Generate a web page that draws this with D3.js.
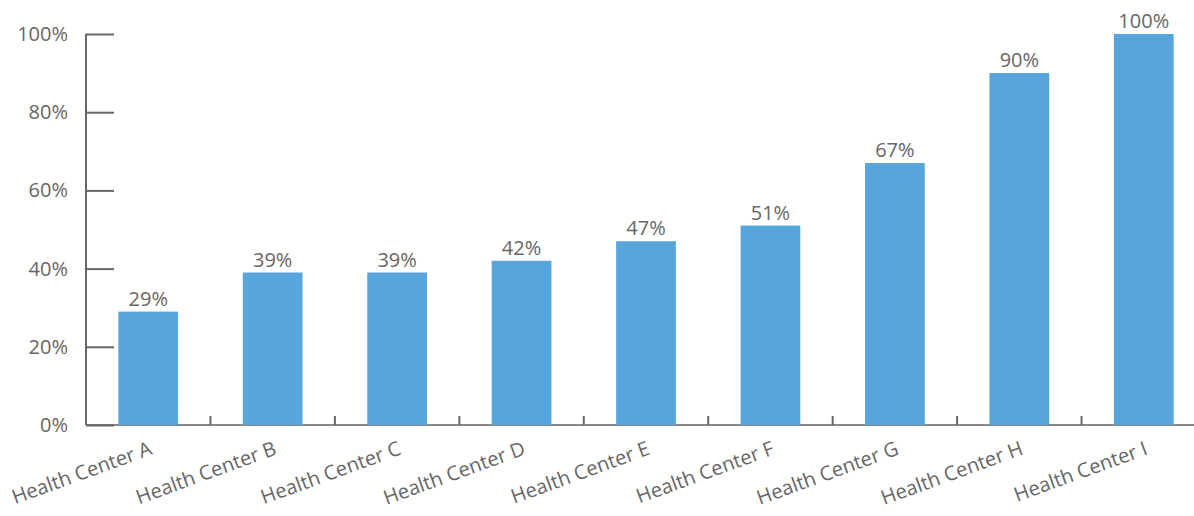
<!DOCTYPE html>
<html>
<head>
<meta charset="utf-8">
<script src="https://cdn.jsdelivr.net/npm/d3@7"></script>
<style>
  body { margin: 0; background: #fff; }
  text { font-family: "Open Sans", "Noto Sans", sans-serif; fill: #666; }
</style>
</head>
<body>
<div id="chart"></div>
<script>
let categories = ["Health Center A", "Health Center B", "Health Center C", "Health Center D",
    "Health Center E", "Health Center F", "Health Center G", "Health Center H", "Health Center I"];
let values = [29, 39, 39, 42, 47, 51, 67, 90, 100];
let yTicks = [0, 20, 40, 60, 80, 100];

let width = 1194, height = 516;
let plotLeft = 86, plotTop = 34, plotBottom = 425, plotRight = 1206;

let svg = d3.select("#chart").append("svg")
    .attr("width", width).attr("height", height);

let x = d3.scaleBand().domain(categories).range([plotLeft, plotRight]).paddingInner(0.52).paddingOuter(0.26);
let y = d3.scaleLinear().domain([0, 100]).range([plotBottom, plotTop]);

/* x axis line with small upward ticks between categories */
svg.append("line")
    .attr("x1", plotLeft).attr("x2", plotRight)
    .attr("y1", plotBottom).attr("y2", plotBottom)
    .attr("stroke", "#888").attr("stroke-width", 2);
svg.selectAll(".xtick")
    .data(categories.slice(1))
    .enter().append("line")
    .attr("class", "xtick")
    .attr("x1", (d) => x(d) - x.step() * x.paddingInner() / 2)
    .attr("x2", (d) => x(d) - x.step() * x.paddingInner() / 2)
    .attr("y1", plotBottom).attr("y2", plotBottom - 9)
    .attr("stroke", "#666").attr("stroke-width", 2);

/* bars */
svg.selectAll(".bar")
    .data(values)
    .enter().append("rect")
    .attr("class", "bar")
    .attr("x", (d, i) => x(categories[i]))
    .attr("y", (d) => y(d))
    .attr("width", x.bandwidth())
    .attr("height", (d) => plotBottom - y(d))
    .attr("fill", "#58A5DC");

/* y axis: ticks point inward */
let yAxis = d3.axisRight(y).tickValues(yTicks).tickSize(28).tickFormat("");
let yg = svg.append("g").attr("transform", "translate(" + plotLeft + ",0)").call(yAxis);
yg.select(".domain").attr("stroke", "#666").attr("stroke-width", 2).attr("d", "M0," + plotTop + "V" + plotBottom);
yg.selectAll(".tick line").attr("stroke", "#666").attr("stroke-width", 2);

svg.selectAll(".ylabel")
    .data(yTicks)
    .enter().append("text")
    .attr("class", "ylabel")
    .attr("x", 68)
    .attr("y", (d) => y(d))
    .attr("dy", "0.35em")
    .attr("text-anchor", "end")
    .style("font-size", "20px")
    .text((d) => d + "%");

/* value labels */
svg.selectAll(".vlabel")
    .data(values)
    .enter().append("text")
    .attr("class", "vlabel")
    .attr("x", (d, i) => x(categories[i]) + x.bandwidth() / 2)
    .attr("y", (d) => y(d) - 6)
    .attr("text-anchor", "middle")
    .style("font-size", "20px")
    .text((d) => d + "%");

/* category labels rotated */
svg.selectAll(".xlabel")
    .data(categories)
    .enter().append("text")
    .attr("class", "xlabel")
    .attr("text-anchor", "end")
    .attr("transform", (d) => "translate(" + (x(d) + x.bandwidth() / 2 + 5) + "," + 454 + ") rotate(-20)")
    .style("font-size", "20px")
    .text((d) => d);
</script>
</body>
</html>
